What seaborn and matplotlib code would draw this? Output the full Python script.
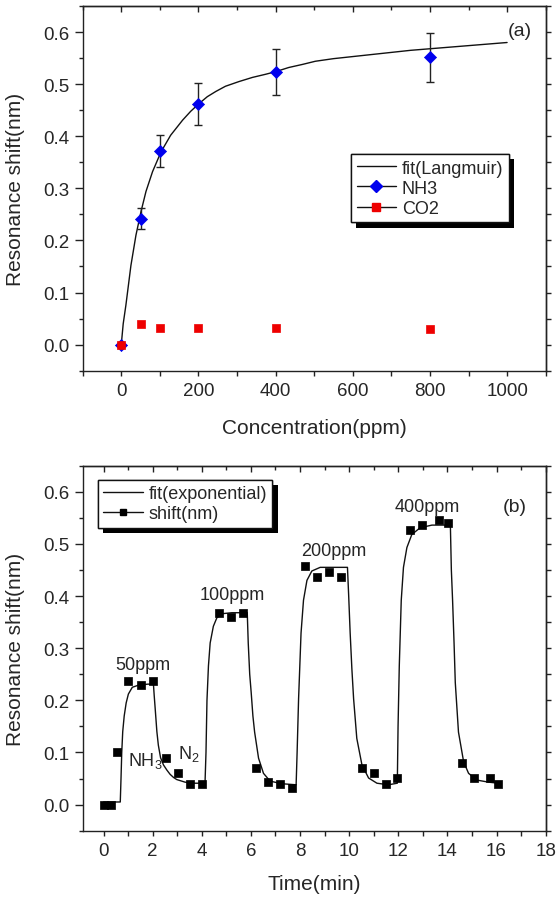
import matplotlib
matplotlib.use("Agg")
import matplotlib.pyplot as plt
import matplotlib.patheffects as pe
from matplotlib.lines import Line2D
from matplotlib.ticker import MultipleLocator
import seaborn as sns

# panel (a): resonance shift vs concentration
conc = [0, 50, 100, 200, 400, 800]
nh3_shift = [0.0, 0.242, 0.372, 0.462, 0.523, 0.552]
nh3_err = [0.0, 0.020, 0.031, 0.040, 0.044, 0.047]
co2_shift = [0.0, 0.040, 0.031, 0.031, 0.031, 0.030]

# Langmuir fit curve
langmuir_x = [0, 5, 12, 25, 38, 51, 64, 81, 103, 128, 159, 180, 202, 223,
              245, 270, 305, 340, 374, 400, 434, 470, 503, 550, 600, 650,
              700, 750, 800, 850, 900, 950, 1000]
langmuir_y = [0.0, 0.040, 0.076, 0.152, 0.210, 0.255, 0.294, 0.332, 0.370,
              0.402, 0.431, 0.448, 0.463, 0.476, 0.486, 0.496, 0.505, 0.513,
              0.519, 0.524, 0.532, 0.538, 0.544, 0.549, 0.553, 0.557, 0.561,
              0.565, 0.568, 0.571, 0.574, 0.577, 0.580]

# panel (b): response vs time
time_min = [0.0, 0.3, 0.54, 1.01, 1.53, 2.0, 2.53, 3.02, 3.52, 4.02, 4.68,
            5.18, 5.69, 6.2, 6.71, 7.2, 7.69, 8.21, 8.68, 9.16, 9.66, 10.52,
            11.02, 11.51, 11.96, 12.46, 12.96, 13.64, 14.02, 14.59, 15.1,
            15.74, 16.04]
shift_nm = [0.0, 0.0, 0.101, 0.237, 0.229, 0.237, 0.090, 0.060, 0.040, 0.040,
            0.367, 0.359, 0.367, 0.071, 0.043, 0.040, 0.032, 0.457, 0.437,
            0.447, 0.437, 0.071, 0.060, 0.040, 0.051, 0.526, 0.536, 0.545,
            0.541, 0.080, 0.051, 0.051, 0.040]

# exponential fit curve
fit_t = [0.0, 0.68, 0.71, 0.74, 0.78, 0.84, 0.92, 1.01, 1.17, 1.42, 1.8, 2.03,
         2.06, 2.10, 2.17, 2.23, 2.32, 2.44, 2.58, 2.71, 2.85, 2.98, 3.32, 3.7, 4.13,
         4.17, 4.21, 4.27, 4.34, 4.47, 4.61, 4.81, 5.22, 5.85,
         5.89, 5.95, 6.01, 6.08, 6.15, 6.31, 6.51, 6.78, 7.26, 7.84,
         7.88, 7.94, 8.04, 8.14, 8.28, 8.48, 8.82, 9.93,
         9.98, 10.04, 10.11, 10.18, 10.31, 10.52, 10.79, 11.13, 11.6, 11.96,
         11.99, 12.04, 12.12, 12.21, 12.35, 12.55, 12.89, 13.37, 14.12,
         14.16, 14.21, 14.27, 14.32, 14.45, 14.66, 14.86, 15.2, 15.68, 16.08]
fit_v = [0.005, 0.005, 0.05, 0.10, 0.14, 0.17, 0.195, 0.212, 0.225, 0.229, 0.231, 0.231,
         0.21, 0.185, 0.14, 0.114, 0.09, 0.076, 0.066, 0.058, 0.052, 0.048, 0.043, 0.041, 0.041,
         0.10, 0.20, 0.266, 0.31, 0.342, 0.358, 0.366, 0.368, 0.368,
         0.31, 0.25, 0.215, 0.17, 0.139, 0.089, 0.06, 0.045, 0.040, 0.038,
         0.10, 0.203, 0.329, 0.392, 0.43, 0.448, 0.455, 0.455,
         0.40, 0.329, 0.26, 0.203, 0.127, 0.076, 0.051, 0.041, 0.038, 0.041,
         0.15, 0.266, 0.392, 0.455, 0.493, 0.518, 0.531, 0.536, 0.536,
         0.45, 0.392, 0.31, 0.234, 0.139, 0.082, 0.06, 0.047, 0.043, 0.041]

conc_labels = ["50ppm", "100ppm", "200ppm", "400ppm"]
conc_label_xy = [(1.62, 0.269), (5.22, 0.402), (9.36, 0.487), (13.16, 0.572)]

sns.set_theme(style="ticks")
plt.rcParams["font.family"] = ["Liberation Sans", "DejaVu Sans"]
plt.rcParams["axes.linewidth"] = 1.0
plt.rcParams["axes.edgecolor"] = "#222222"
plt.rcParams["mathtext.fontset"] = "custom"
plt.rcParams["mathtext.rm"] = "Liberation Sans"
plt.rcParams["mathtext.it"] = "Liberation Sans"

fig = plt.figure(figsize=(5.58, 9.03), dpi=100)
ax1 = fig.add_axes([0.1482, 0.5884, 0.8297, 0.4038])
ax2 = fig.add_axes([0.1482, 0.0790, 0.8297, 0.4042])


def style_axes(ax, xmajor, xminor):
    ax.set_ylim(-0.05, 0.65)
    ax.yaxis.set_major_locator(MultipleLocator(0.1))
    ax.yaxis.set_minor_locator(MultipleLocator(0.05))
    ax.xaxis.set_major_locator(MultipleLocator(xmajor))
    ax.xaxis.set_minor_locator(MultipleLocator(xminor))
    ax.tick_params(axis="y", which="major", direction="out", length=5.5,
                   width=1, labelsize=13.5, pad=4, color="#222222")
    ax.tick_params(axis="y", which="minor", direction="out", length=3,
                   width=1, color="#222222")
    ax.tick_params(axis="x", which="both", direction="out", length=3.5,
                   width=1, labelsize=13.5, pad=5, color="#222222")
    ax.yaxis.set_major_formatter(matplotlib.ticker.FormatStrFormatter("%.1f"))
    top = ax.secondary_xaxis("top")
    top.xaxis.set_major_locator(MultipleLocator(xmajor))
    top.xaxis.set_minor_locator(MultipleLocator(xminor))
    top.tick_params(axis="x", which="major", direction="in", length=4.5,
                    width=1, labeltop=False, color="#222222")
    top.tick_params(axis="x", which="minor", direction="in", length=3,
                    width=1, labeltop=False, color="#222222")
    right = ax.secondary_yaxis("right")
    right.yaxis.set_major_locator(MultipleLocator(0.05))
    right.tick_params(axis="y", which="both", direction="out", length=3.5,
                      width=1, labelright=False, color="#222222")
    right.yaxis.set_minor_locator(matplotlib.ticker.NullLocator())


# ---- panel (a)
sns.lineplot(x=langmuir_x, y=langmuir_y, ax=ax1, color="#111111", lw=1.0,
             sort=False, estimator=None, zorder=2)
ax1.errorbar(conc[1:], nh3_shift[1:], yerr=nh3_err[1:], fmt="none",
             ecolor="#222222", elinewidth=1.0, capsize=3, capthick=1.0, zorder=3)
sns.scatterplot(x=conc, y=nh3_shift, ax=ax1, marker="D", s=38,
                color="#0000ee", edgecolor="#0000ee", linewidth=0.5, zorder=4)
sns.scatterplot(x=conc, y=co2_shift, ax=ax1, marker="s", s=28,
                color="#ee0000", edgecolor="#ee0000", linewidth=0.5, zorder=5)
ax1.set_xlim(-100, 1100)
style_axes(ax1, 200, 100)
ax1.set_xlabel("Concentration(ppm)", fontsize=15)
ax1.set_ylabel("Resonance shift(nm)", fontsize=15)
ax1.yaxis.set_label_coords(-0.125, 0.5)
ax1.xaxis.set_label_coords(0.5, -0.13)
ax1.text(1033, 0.604, "(a)", fontsize=14, ha="center", va="center")

handles_a = [
    Line2D([], [], color="#111111", lw=1.0),
    Line2D([], [], color="#111111", lw=1.0, marker="D", ms=6,
           mfc="#0000ee", mec="#0000ee"),
    Line2D([], [], color="#111111", lw=1.0, marker="s", ms=5.3,
           mfc="#ee0000", mec="#ee0000"),
]
leg_a = ax1.legend(handles_a, ["fit(Langmuir)", "NH3", "CO2"],
                   loc="upper left", bbox_to_anchor=(0.58, 0.594),
                   borderaxespad=0, fontsize=13, frameon=True, fancybox=False,
                   edgecolor="#111111", framealpha=1, handlelength=2.2,
                   handletextpad=0.3, labelspacing=0.18, borderpad=0.3)
leg_a.get_frame().set_linewidth(1.0)
leg_a.get_frame().set_path_effects([
    pe.withSimplePatchShadow(offset=(3.8, -3.8), shadow_rgbFace="black", alpha=1.0),
    pe.Normal()])

# ---- panel (b)
sns.lineplot(x=fit_t, y=fit_v, ax=ax2, color="#111111", lw=1.0,
             sort=False, estimator=None, zorder=2)
sns.scatterplot(x=time_min, y=shift_nm, ax=ax2, marker="s", s=26,
                color="black", edgecolor="black", linewidth=0.5, zorder=3)
ax2.set_xlim(-0.85, 18)
style_axes(ax2, 2, 1)
ax2.set_xlabel("Time(min)", fontsize=15)
ax2.set_ylabel("Resonance shift(nm)", fontsize=15)
ax2.yaxis.set_label_coords(-0.125, 0.5)
ax2.xaxis.set_label_coords(0.5, -0.12)

for lab, (tx, ty) in zip(conc_labels, conc_label_xy):
    ax2.text(tx, ty, lab, fontsize=13, ha="center", va="center")
ax2.text(1.69, 0.085, "NH$_3$", fontsize=13, ha="center", va="center")
ax2.text(3.45, 0.098, "N$_2$", fontsize=13, ha="center", va="center")
ax2.text(16.76, 0.572, "(b)", fontsize=14, ha="center", va="center")

handles_b = [
    Line2D([], [], color="#111111", lw=1.0),
    Line2D([], [], color="#111111", lw=1.0, marker="s", ms=5, mfc="black",
           mec="black"),
]
leg_b = ax2.legend(handles_b, ["fit(exponential)", "shift(nm)"],
                   loc="upper left", bbox_to_anchor=(0.033, 0.962),
                   borderaxespad=0, fontsize=13, frameon=True, fancybox=False,
                   edgecolor="#111111", framealpha=1, handlelength=2.2,
                   handletextpad=0.3, labelspacing=0.18, borderpad=0.3)
leg_b.get_frame().set_linewidth(1.0)
leg_b.get_frame().set_path_effects([
    pe.withSimplePatchShadow(offset=(3.8, -3.8), shadow_rgbFace="black", alpha=1.0),
    pe.Normal()])

fig.savefig("out.png", dpi=100)
plt.close(fig)
